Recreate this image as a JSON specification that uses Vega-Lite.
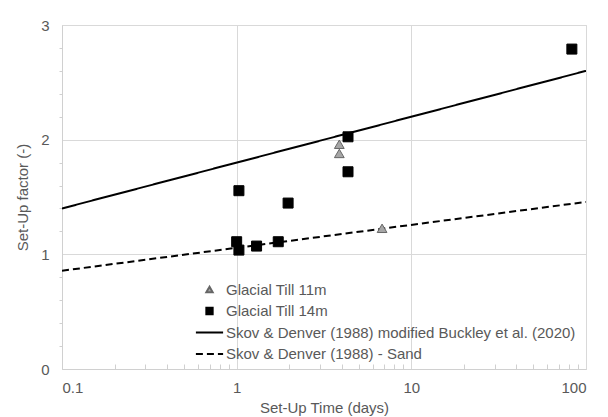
{
  "$schema": "https://vega.github.io/schema/vega-lite/v6.json",
  "width": 524,
  "height": 344,
  "autosize": {"type": "none"},
  "padding": {"left": 62, "top": 25, "right": 22, "bottom": 48},
  "background": "white",
  "config": {
    "font": "Liberation Sans",
    "view": {"stroke": "#d9d9d9"},
    "axis": {
      "labelColor": "#595959",
      "titleColor": "#595959",
      "labelFontSize": 15,
      "titleFontSize": 15,
      "titleFontWeight": "normal",
      "gridColor": "#d9d9d9",
      "domainColor": "#d0d0d0",
      "tickColor": "#d0d0d0"
    },
    "legend": {
      "labelColor": "#595959",
      "labelFontSize": 15,
      "labelLimit": 0,
      "padding": 0
    }
  },
  "datasets": {
    "points": [
      {"series": "Glacial Till 11m", "t": 3.87, "f": 1.96},
      {"series": "Glacial Till 11m", "t": 3.87, "f": 1.88},
      {"series": "Glacial Till 11m", "t": 6.8, "f": 1.227},
      {"series": "Glacial Till 14m", "t": 1.0, "f": 1.11},
      {"series": "Glacial Till 14m", "t": 1.03, "f": 1.037},
      {"series": "Glacial Till 14m", "t": 1.3, "f": 1.072},
      {"series": "Glacial Till 14m", "t": 1.73, "f": 1.11},
      {"series": "Glacial Till 14m", "t": 1.03, "f": 1.555},
      {"series": "Glacial Till 14m", "t": 1.97, "f": 1.447},
      {"series": "Glacial Till 14m", "t": 4.34, "f": 2.025},
      {"series": "Glacial Till 14m", "t": 4.34, "f": 1.72},
      {"series": "Glacial Till 14m", "t": 83, "f": 2.79}
    ],
    "lines": [
      {"series": "Skov & Denver (1988) modified Buckley et al. (2020)", "t": 0.1, "f": 1.4},
      {"series": "Skov & Denver (1988) modified Buckley et al. (2020)", "t": 100, "f": 2.6},
      {"series": "Skov & Denver (1988) - Sand", "t": 0.1, "f": 0.857},
      {"series": "Skov & Denver (1988) - Sand", "t": 100, "f": 1.457}
    ]
  },
  "layer": [
    {
      "data": {"name": "lines"},
      "mark": {"type": "line", "clip": true, "strokeWidth": 2},
      "encoding": {
        "x": {
          "field": "t", "type": "quantitative",
          "scale": {"type": "log", "domain": [0.1, 100]},
          "axis": {
            "orient": "bottom",
            "values": [0.2, 0.3, 0.4, 0.5, 0.6, 0.7, 0.8, 0.9, 2, 3, 4, 5, 6, 7, 8, 9, 20, 30, 40, 50, 60, 70, 80, 90],
            "labels": false, "grid": false, "domain": false, "ticks": true,
            "tickSize": -5, "title": null
          }
        },
        "y": {
          "field": "f", "type": "quantitative",
          "scale": {"domain": [0, 3]},
          "axis": {
            "orient": "left",
            "values": [0.2, 0.4, 0.6, 0.8, 1.2, 1.4, 1.6, 1.8, 2.2, 2.4, 2.6, 2.8],
            "labels": false, "grid": false, "domain": false, "ticks": true,
            "tickSize": 3, "title": null
          }
        },
        "stroke": {
          "field": "series", "type": "nominal",
          "scale": {
            "domain": ["Glacial Till 11m", "Glacial Till 14m", "Skov & Denver (1988) modified Buckley et al. (2020)", "Skov & Denver (1988) - Sand"],
            "range": ["#666666", "#000000", "#000000", "#000000"]
          },
          "legend": {
            "title": null,
            "orient": "none",
            "legendX": 140,
            "legendY": 257,
            "symbolSize": 40,
            "symbolStrokeWidth": 2,
            "labelOffset": 9,
            "rowPadding": 5.5
          }
        },
        "strokeDash": {
          "field": "series", "type": "nominal",
          "scale": {
            "domain": ["Glacial Till 11m", "Glacial Till 14m", "Skov & Denver (1988) modified Buckley et al. (2020)", "Skov & Denver (1988) - Sand"],
            "range": [[1, 0], [1, 0], [1, 0], [7, 4]]
          },
          "legend": {"title": null}
        }
      }
    },
    {
      "data": {"name": "points"},
      "mark": {"type": "point", "filled": true, "opacity": 1, "strokeWidth": 1},
      "encoding": {
        "x": {
          "field": "t", "type": "quantitative",
          "scale": {"type": "log", "domain": [0.1, 100]},
          "axis": {
            "orient": "bottom",
            "values": [0.1, 1, 10, 100],
            "format": "~g",
            "ticks": false, "tickSize": 0,
            "labelPadding": 11,
            "grid": true,
            "title": "Set-Up Time (days)",
            "titlePadding": 5
          }
        },
        "y": {
          "field": "f", "type": "quantitative",
          "scale": {"domain": [0, 3]},
          "axis": {
            "orient": "left",
            "values": [0, 1, 2, 3],
            "ticks": false, "tickSize": 0,
            "labelPadding": 13,
            "grid": true,
            "title": "Set-Up factor (-)",
            "titlePadding": 10
          }
        },
        "fill": {
          "field": "series", "type": "nominal",
          "scale": {
            "domain": ["Glacial Till 11m", "Glacial Till 14m", "Skov & Denver (1988) modified Buckley et al. (2020)", "Skov & Denver (1988) - Sand"],
            "range": ["#a6a6a6", "#000000", "transparent", "transparent"]
          },
          "legend": {"title": null}
        },
        "stroke": {"field": "series", "type": "nominal", "legend": {"title": null}},
        "shape": {
          "field": "series", "type": "nominal",
          "scale": {
            "domain": ["Glacial Till 11m", "Glacial Till 14m", "Skov & Denver (1988) modified Buckley et al. (2020)", "Skov & Denver (1988) - Sand"],
            "range": ["triangle-up", "square", "M-4.3,0H4.3", "M-4.3,0H4.3"]
          },
          "legend": {"title": null}
        },
        "size": {
          "condition": {"test": "datum.series === 'Glacial Till 11m'", "value": 95},
          "value": 100
        }
      }
    }
  ],
  "resolve": {"axis": {"x": "independent", "y": "independent"}}
}
